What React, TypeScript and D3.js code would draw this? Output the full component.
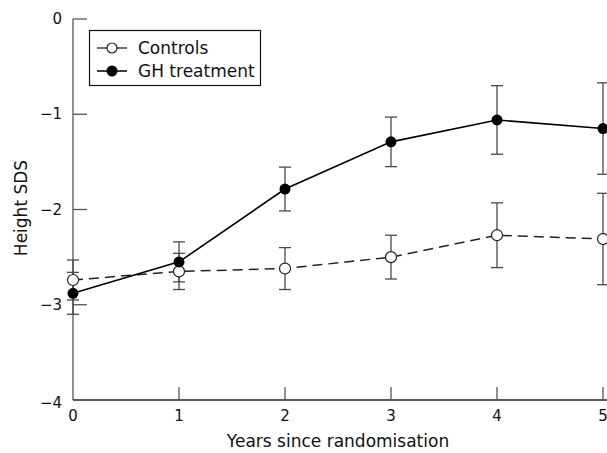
import React from "react";
import * as d3 from "d3";

const years = [0, 1, 2, 3, 4, 5];
const controlsMean = [-2.74, -2.65, -2.62, -2.5, -2.27, -2.31];
const controlsErr = [0.21, 0.19, 0.22, 0.23, 0.34, 0.48];
const ghMean = [-2.88, -2.55, -1.785, -1.29, -1.06, -1.15];
const ghErr = [0.22, 0.21, 0.23, 0.26, 0.36, 0.48];
const yTicks = [0, -1, -2, -3, -4];
const xTicks = [0, 1, 2, 3, 4, 5];
const seriesNames = ["Controls", "GH treatment"];

const W = 607;
const H = 453;
const FONT = "'DejaVu Sans', sans-serif";

export default function App() {
  const x = d3.scaleLinear().domain([0, 5]).range([73, 603]);
  const y = d3.scaleLinear().domain([-4, 0]).range([400, 19]);

  const ctrl = years.map((t, i) => ({ t, m: controlsMean[i], e: controlsErr[i] }));
  const gh = years.map((t, i) => ({ t, m: ghMean[i], e: ghErr[i] }));

  const line = d3
    .line<{ t: number; m: number }>()
    .x((d) => x(d.t))
    .y((d) => y(d.m));

  const errColor = "#4a4a4a";
  const axisColor = "#555";
  const capHalf = 6;
  const r = 5.5;

  const errBars = (data: { t: number; m: number; e: number }[], key: string) =>
    data.map((d, i) => {
      const cx = x(d.t);
      const y1 = y(d.m + d.e);
      const y2 = y(d.m - d.e);
      return (
        <g key={key + i} stroke={errColor} strokeWidth={1.3}>
          <line x1={cx} x2={cx} y1={y1} y2={y2} />
          <line x1={cx - capHalf} x2={cx + capHalf} y1={y1} y2={y1} />
          <line x1={cx - capHalf} x2={cx + capHalf} y1={y2} y2={y2} />
        </g>
      );
    });

  return (
    <svg
      width={W}
      height={H}
      style={{ position: "absolute", left: 0, top: 0, background: "#fff" }}
      fontFamily={FONT}
    >
      <rect x={0} y={0} width={W} height={H} fill="#fff" />
      {/* axes */}
      <line x1={x(0)} x2={x(0)} y1={y(0)} y2={y(-4)} stroke={axisColor} strokeWidth={1.3} />
      <line x1={x(0)} x2={W} y1={y(-4)} y2={y(-4)} stroke="#222" strokeWidth={1.3} />
      {yTicks.map((v) => (
        <g key={"yt" + v}>
          {v !== -4 && (
            <line x1={x(0)} x2={x(0) + 14} y1={y(v)} y2={y(v)} stroke={axisColor} strokeWidth={1.3} />
          )}
          <text
            x={62}
            y={y(v) + (v === -4 ? 3 : 0)}
            textAnchor="end"
            dominantBaseline="central"
            fontSize={15}
            fill="#111"
          >
            {v === 0 ? "0" : "\u2212" + Math.abs(v)}
          </text>
        </g>
      ))}
      {xTicks.map((v) => (
        <g key={"xt" + v}>
          {v !== 0 && (
            <line x1={x(v)} x2={x(v)} y1={y(-4)} y2={y(-4) - 13} stroke={axisColor} strokeWidth={1.3} />
          )}
          <text x={x(v)} y={421} textAnchor="middle" fontSize={15} fill="#111">
            {v}
          </text>
        </g>
      ))}
      <text x={(x(0) + x(5)) / 2} y={447} textAnchor="middle" fontSize={17} fill="#111">
        Years since randomisation
      </text>
      <text
        transform={`translate(27,${208}) rotate(-90)`}
        textAnchor="middle"
        fontSize={17}
        fill="#111"
      >
        Height SDS
      </text>

      {/* error bars */}
      {errBars(ctrl, "c")}
      {errBars(gh, "g")}

      {/* lines */}
      <path d={line(ctrl) || ""} fill="none" stroke="#222" strokeWidth={1.5} strokeDasharray="10,6" />
      <path d={line(gh) || ""} fill="none" stroke="#000" strokeWidth={1.6} />

      {/* markers */}
      {ctrl.map((d, i) => (
        <circle key={"cm" + i} cx={x(d.t)} cy={y(d.m)} r={r} fill="#fff" stroke="#222" strokeWidth={1.2} />
      ))}
      {gh.map((d, i) => (
        <circle key={"gm" + i} cx={x(d.t)} cy={y(d.m)} r={r} fill="#000" />
      ))}

      {/* legend */}
      <rect x={89.5} y={30.5} width={171} height={55} fill="#fff" stroke="#111" strokeWidth={1.2} />
      <line x1={97} x2={127} y1={48} y2={48} stroke="#222" strokeWidth={1.3} />
      <circle cx={112} cy={48} r={5} fill="#fff" stroke="#222" strokeWidth={1.2} />
      <text x={138} y={48} dominantBaseline="central" fontSize={17} fill="#111">
        {seriesNames[0]}
      </text>
      <line x1={97} x2={127} y1={71} y2={71} stroke="#000" strokeWidth={1.5} />
      <circle cx={112} cy={71} r={5.5} fill="#000" />
      <text x={138} y={71} dominantBaseline="central" fontSize={17} fill="#111">
        {seriesNames[1]}
      </text>
    </svg>
  );
}
